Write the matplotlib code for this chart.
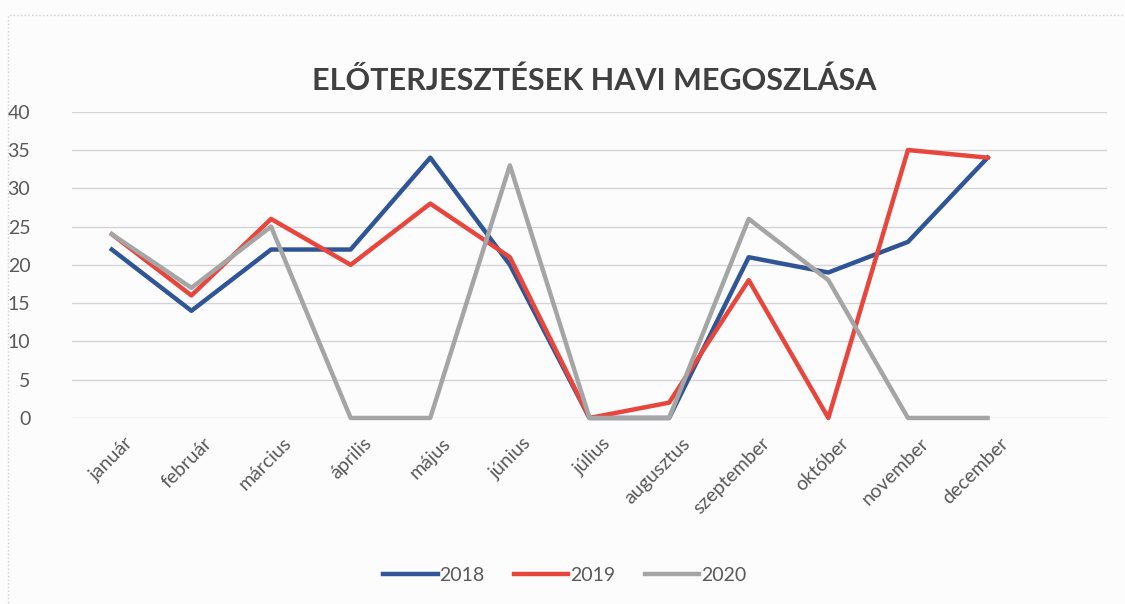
import numpy as np
import matplotlib.pyplot as plt
import matplotlib.transforms as mtransforms
from matplotlib.patches import Rectangle

plt.rcParams['font.family'] = ['Lato', 'DejaVu Sans']

honapok = ["január", "február", "március", "április", "május", "június",
           "július", "augusztus", "szeptember", "október", "november", "december"]
ev_2018 = [22, 14, 22, 22, 34, 20, 0, 0, 21, 19, 23, 34]
ev_2019 = [24, 16, 26, 20, 28, 21, 0, 2, 18, 0, 35, 34]
ev_2020 = [24, 17, 25, 0, 0, 33, 0, 0, 26, 18, 0, 0]

fig = plt.figure(figsize=(11.25, 6.04), dpi=100)
fig.patch.set_facecolor("#fbfcfb")
ax = fig.add_axes([0.064, 0.308, 0.92, 0.507])
ax.set_facecolor("#fbfcfb")

x = np.arange(len(honapok))
ax.plot(x, ev_2018, color="#2f5597", lw=3.2, label="2018", clip_on=False, zorder=3)
ax.plot(x, ev_2019, color="#e8453c", lw=3.2, label="2019", clip_on=False, zorder=4)
ax.plot(x, ev_2020, color="#a5a5a5", lw=3.2, label="2020", clip_on=False, zorder=5)

ax.set_xlim(-0.5, 12.5)
ax.set_ylim(0, 40)
ax.set_yticks(range(0, 41, 5))
ax.grid(axis="y", color="#d4d4d8", lw=1)
ax.set_axisbelow(True)
for s in ax.spines.values():
    s.set_visible(False)
ax.tick_params(length=0, labelsize=14, labelcolor="#595959")
ax.tick_params(axis="y", pad=30)
ax.set_xticks(x)
ax.set_xticklabels(honapok, rotation=45, ha="right", rotation_mode="anchor")
ax.tick_params(axis="x", pad=12)
shift = mtransforms.ScaledTranslation(0.12, 0, fig.dpi_scale_trans)
for lbl in ax.get_xticklabels():
    lbl.set_transform(lbl.get_transform() + shift)

fig.text(0.528, 0.866, "ELŐTERJESZTÉSEK HAVI MEGOSZLÁSA", ha="center", va="center",
         fontsize=22, fontweight="bold", color="#404040")

fig.legend(loc="center", bbox_to_anchor=(0.502, 0.048), ncol=3, frameon=False,
           fontsize=14, handlelength=2.8, handletextpad=0.1, columnspacing=1.5,
           labelcolor="#595959")

fig.patches.append(Rectangle((0.007, -0.01), 1.0, 0.985, transform=fig.transFigure,
                             fill=False, ec="#cfcfcf", lw=1, ls=":"))

plt.savefig("out.png", dpi=100, facecolor=fig.get_facecolor())
